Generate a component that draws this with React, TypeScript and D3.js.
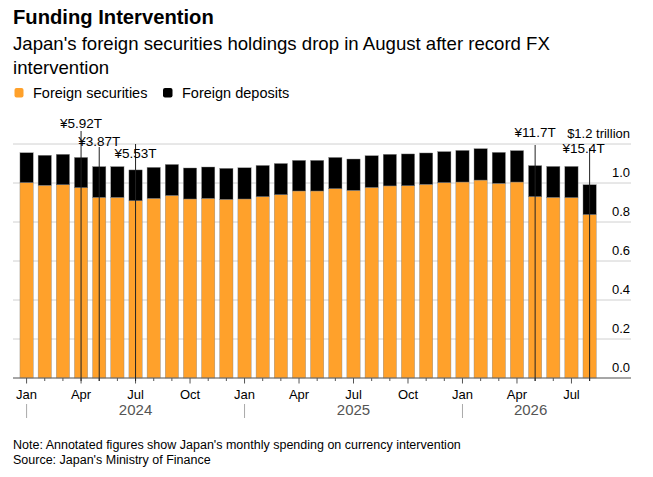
import * as d3 from "d3"

const months = [
  "2024-01", "2024-02", "2024-03", "2024-04", "2024-05", "2024-06", "2024-07", "2024-08",
  "2024-09", "2024-10", "2024-11", "2024-12", "2025-01", "2025-02", "2025-03", "2025-04",
  "2025-05", "2025-06", "2025-07", "2025-08", "2025-09", "2025-10", "2025-11", "2025-12",
  "2026-01", "2026-02", "2026-03", "2026-04", "2026-05", "2026-06", "2026-07", "2026-08",
]

// $ trillion
const securities = [
  1.002, 0.988, 0.991, 0.976, 0.926, 0.926, 0.909, 0.921, 0.936, 0.918, 0.921, 0.916,
  0.918, 0.93, 0.94, 0.959, 0.959, 0.971, 0.962, 0.977, 0.985, 0.986, 0.993, 1.002,
  1.005, 1.015, 0.998, 1.005, 0.93, 0.926, 0.925, 0.838,
]
const deposits = [
  0.153, 0.154, 0.156, 0.155, 0.158, 0.158, 0.158, 0.159, 0.159, 0.159, 0.161, 0.159,
  0.16, 0.16, 0.16, 0.157, 0.157, 0.16, 0.161, 0.163, 0.162, 0.163, 0.161, 0.159,
  0.162, 0.161, 0.159, 0.161, 0.159, 0.159, 0.16, 0.153,
]

const yTicks = [0, 0.2, 0.4, 0.6, 0.8, 1.0, 1.2]
const monthNames = ["Jan", "Feb", "Mar", "Apr", "May", "Jun", "Jul", "Aug", "Sep", "Oct", "Nov", "Dec"]

const annotations = [
  { month: "2024-04", text: "¥5.92T" },
  { month: "2024-05", text: "¥3.87T" },
  { month: "2024-07", text: "¥5.53T" },
  { month: "2026-05", text: "¥11.7T" },
  { month: "2026-08", text: "¥15.4T" },
]
// label placement relative to the top gridline (to keep labels apart)
const annLayout = [
  { dy: -16, lineDy: -13, dx: 0 },
  { dy: 2, lineDy: 3, dx: 0 },
  { dy: 14, lineDy: 0, dx: 0 },
  { dy: -7, lineDy: 1, dx: 0 },
  { dy: 9, lineDy: 4, dx: -6 },
]

const ORANGE = "#ffa12b"
const FONT = "'Liberation Sans', Arial, sans-serif"

export default function App() {
  const width = 653
  const height = 477

  const x = d3
    .scaleBand<string>()
    .domain(months)
    .range([17.5, 598.7])
    .paddingInner(0.27)
    .paddingOuter(0.135)
  const y = d3.scaleLinear().domain([0, 1.2]).range([378, 144])

  const rows = months.map((m, i) => ({ month: m, securities: securities[i], deposits: deposits[i] }))
  const series = d3.stack<any>().keys(["securities", "deposits"])(rows)
  const colors = [ORANGE, "#000"]

  const cx = (m: string) => (x(m) ?? 0) + x.bandwidth() / 2
  const gridX0 = 13
  const gridX1 = 631

  const years = Array.from(new Set(months.map((m) => m.slice(0, 4))))

  return (
    <svg
      width={width}
      height={height}
      style={{ position: "absolute", left: 0, top: 0, background: "#fff" }}
      fontFamily={FONT}
    >
      <text x={13} y={23.5} fontSize={20.2} fontWeight="bold" fill="#000">
        Funding Intervention
      </text>
      <text x={13} y={50} fontSize={18.6} fill="#000">
        Japan's foreign securities holdings drop in August after record FX
      </text>
      <text x={13} y={74} fontSize={18.6} fill="#000">
        intervention
      </text>

      <g fontSize={14.5} fill="#000">
        <rect x={14.5} y={88} width={9} height={9.5} rx={2} fill={ORANGE} />
        <text x={33} y={98}>Foreign securities</text>
        <rect x={163} y={88} width={9.5} height={9.5} rx={2} fill="#000" />
        <text x={182} y={98}>Foreign deposits</text>
      </g>

      {/* gridlines */}
      <g>
        {yTicks.map((t) => (
          <line key={t} x1={gridX0} x2={gridX1} y1={y(t)} y2={y(t)} stroke="#d0d0d0" strokeWidth={1} />
        ))}
      </g>

      {/* stacked bars */}
      {series.map((s, si) => (
        <g key={s.key} fill={colors[si]}>
          {s.map((d, i) => (
            <rect
              key={i}
              x={x(months[i])}
              width={x.bandwidth()}
              y={y(d[1])}
              height={y(d[0]) - y(d[1])}
              stroke="#888"
              strokeWidth={0.4}
            />
          ))}
        </g>
      ))}

      {/* y labels */}
      <g fontSize={13} textAnchor="end" fill="#000">
        {yTicks.map((t) => (
          <text key={t} x={630} y={y(t) - 6}>
            {t === 1.2 ? "$1.2 trillion" : d3.format(".1f")(t)}
          </text>
        ))}
      </g>

      {/* x axis */}
      <line x1={gridX0} x2={gridX1} y1={y(0)} y2={y(0)} stroke="#666" strokeWidth={1.2} />
      <g stroke="#555" strokeWidth={1}>
        {months.map((m) => {
          const mi = +m.slice(5) - 1
          const major = mi % 3 === 0
          return <line key={m} x1={cx(m)} x2={cx(m)} y1={y(0)} y2={y(0) + (major ? 5.5 : 3)} />
        })}
      </g>
      <g fontSize={13} textAnchor="middle" fill="#000">
        {months
          .filter((m) => (+m.slice(5) - 1) % 3 === 0)
          .map((m) => (
            <text key={m} x={cx(m)} y={398.5}>
              {monthNames[+m.slice(5) - 1]}
            </text>
          ))}
      </g>
      <g fontSize={15} textAnchor="middle" fill="#555">
        {years.map((yr, i) => {
          const start = cx(`${yr}-01`)
          const next = years[i + 1]
          const end = next ? cx(`${next}-01`) : x.range()[1]
          return (
            <g key={yr}>
              <line x1={start} x2={start} y1={404} y2={418} stroke="#aaa" strokeWidth={1} />
              <text x={(start + end) / 2} y={415}>
                {yr}
              </text>
            </g>
          )
        })}
      </g>

      {/* annotations */}
      <g>
        {annotations.map((a, i) => {
          const lx = cx(a.month)
          const l = annLayout[i]
          return (
            <g key={a.month}>
              <line x1={lx} x2={lx} y1={y(1.2) + l.lineDy} y2={y(0) + 3} stroke="#222" strokeWidth={1} />
              <text x={lx + l.dx} y={y(1.2) + l.dy} textAnchor="middle" fontSize={13.5} fill="#000">
                {a.text}
              </text>
            </g>
          )
        })}
      </g>

      <g fontSize={12.5} fill="#000">
        <text x={13} y={449}>
          Note: Annotated figures show Japan's monthly spending on currency intervention
        </text>
        <text x={13} y={464}>
          Source: Japan's Ministry of Finance
        </text>
      </g>
    </svg>
  )
}
